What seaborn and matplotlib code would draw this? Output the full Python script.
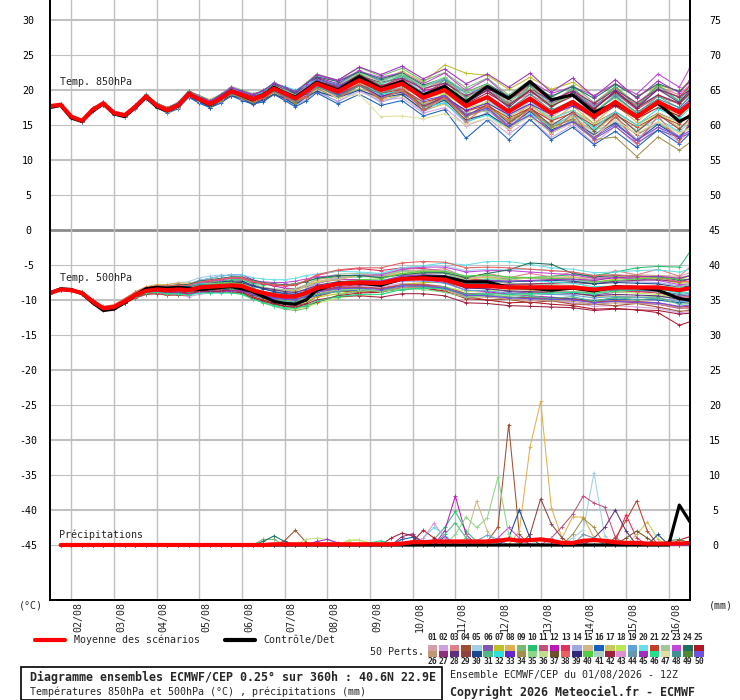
import numpy as np
import pandas as pd
import matplotlib
matplotlib.use("Agg")
import matplotlib.pyplot as plt
from matplotlib.patches import Rectangle
from matplotlib.lines import Line2D
import seaborn as sns


# ---- time steps (hours after 01/08 12Z) ------------------------------------
# temperatures: 6h up to 144h, then 12h (06Z / 18Z), last value at 360h
hours = list(range(0, 145, 6)) + list(range(150, 355, 12)) + [360]
# precipitation: 6h totals
hours_rr = list(range(6, 361, 6))

days = ["02/08", "03/08", "04/08", "05/08", "06/08", "07/08", "08/08", "09/08",
        "10/08", "11/08", "12/08", "13/08", "14/08", "15/08", "16/08"]

# member colours 01..50 (legend swatches)
member_colors = [
    "#d4a0a8", "#d0a0e0", "#e08088", "#a05030", "#a0d0e8", "#8058b0", "#c0c020",
    "#e0b050", "#78b870", "#28c070", "#c05080", "#c018b8", "#e03060", "#a0a8e0",
    "#d0b888", "#1860c0", "#c8c860", "#b8e858", "#60a0d8", "#68e0e8", "#c04028",
    "#a0c898", "#c048d8", "#207060", "#b01828",
    "#c09878", "#903078", "#603080", "#904040", "#184890", "#50b888", "#30e0e0",
    "#6028d0", "#a09048", "#88d888", "#c0e088", "#705028", "#e86060", "#302878",
    "#50d040", "#a8d0c0", "#a02040", "#e090d0", "#6898b0", "#a030c0", "#20e090",
    "#e0e0a0", "#409098", "#508838", "#7050e0",
]

# ---- 850 hPa temperature (°C) ---------------------------------------------
mean850 = [17.7, 17.9, 16.2, 15.6, 17.2, 18.1, 16.7, 16.4, 17.6, 19.1, 17.8, 17.1,
           17.8, 19.4, 18.7, 18.0, 18.8, 19.8, 19.3, 18.7, 19.2, 20.2, 19.5, 18.8,
           19.8, 20.9, 19.8, 21.4, 20.0, 20.9, 18.9, 20.0, 17.7, 19.0, 16.9, 18.8,
           16.7, 18.3, 16.2, 18.3, 16.2, 18.3, 16.8, 18.0]
ctrl850 = [17.5, 17.8, 16.0, 15.5, 17.0, 18.0, 16.6, 16.2, 17.5, 19.0, 17.6, 17.0,
           17.7, 19.5, 18.6, 17.9, 18.8, 19.9, 19.2, 18.6, 19.3, 20.4, 19.6, 19.0,
           20.0, 21.1, 20.0, 21.9, 20.2, 21.2, 19.3, 20.5, 18.3, 20.5, 18.8, 21.2,
           18.6, 19.3, 16.8, 18.1, 16.3, 18.1, 15.5, 16.3]
members850 = [1, 2, 3, 4, 5, 23, 6, 8, 9, 16, 11, 12, 13, 14, 15, 24, 17, 18, 19, 20,
              21, 7, 34, 25, 28, 30, 31, 33, 45, 47,
              10, 22, 27, 29, 32, 35, 38, 42, 48, 50]
# deviation of each perturbation from the mean, tenths of °C
dev850 = [
    [0,1,1,0,1,2,1,0,2,3, 2,1,3,4,3,2,4,5,4,3, 5,6,5,4,6,8,7,10,8,12, 10,14,12,16,13,18,15,20,17,22, 18,24,20,22],
    [0,-1,0,-1,-1,0,-2,-1,-2,-3, -2,-4,-3,-5,-4,-6,-5,-7,-6,-8, -7,-9,-8,-10,-9,-12,-14,-16,-15,-20, -22,-25,-28,-30,-32,-30,-35,-33,-38,-35, -40,-36,-42,-38],
    [1,0,1,1,0,1,0,1,1,2, 0,1,-1,0,1,2,1,3,2,4, 3,5,2,4,1,3,6,8,5,10, 12,15,10,8,12,6,10,14,18,20, 16,22,25,28],
    [-1,0,-1,0,0,-1,1,0,-1,0, 1,-1,0,-2,-1,-3,-2,-4,-1,-3, 0,-2,1,-1,2,0,-4,-6,-3,-8, -10,-6,-12,-15,-18,-14,-20,-24,-28,-22, -26,-30,-34,-30],
    [0,1,0,1,2,1,2,1,3,2, 4,3,5,4,3,2,1,2,0,1, -1,0,-2,-1,-3,-5,-2,-6,-8,-4, -10,-14,-16,-12,-18,-20,-15,-22,-25,-28, -24,-30,-26,-20],
    [0,0,1,0,-1,0,0,-1,0,1, 2,1,2,3,4,3,5,6,5,7, 6,8,9,7,10,12,15,13,18,16, 20,24,22,26,20,25,28,22,30,26, 32,40,36,52],
    [1,1,0,0,1,0,-1,0,-1,-2, -1,-3,-2,-4,-3,-2,-3,-1,-2,0, -1,1,0,2,1,3,5,2,-2,-6, -10,-8,-14,-18,-22,-25,-28,-30,-32,-35, -38,-40,-36,-42],
    [0,-1,-1,0,0,1,1,2,1,2, 1,0,1,0,-1,0,-2,-1,-3,-2, -4,-3,-5,-4,-6,-5,-8,-4,-10,-7, -12,-9,-15,-10,-14,-8,-12,-6,-10,-4, -8,-2,-6,-3],
    [0,0,0,1,1,1,2,2,2,3, 3,4,4,5,5,6,6,7,7,8, 6,9,8,10,12,14,16,18,20,22, 24,25,26,27,24,26,22,24,20,22, 18,20,16,18],
    [-1,-1,-2,-1,-2,-2,-3,-2,-3,-4, -3,-4,-5,-4,-6,-5,-7,-6,-8,-7, -9,-8,-10,-12,-14,-13,-18,-20,-22,-24, -26,-28,-46,-33,-40,-30,-38,-36,-40,-42, -44,-40,-45,-42],
    [0,1,1,2,1,2,1,0,1,0, -1,0,-1,1,0,2,1,3,2,4, 3,2,1,0,-1,-2,-4,-2,0,3, 6,4,8,10,12,9,14,11,16,12, 10,8,12,14],
    [0,0,-1,0,1,0,1,0,0,-1, 0,-1,1,0,2,1,3,2,4,3, 5,4,6,5,7,9,11,14,12,16, 10,6,2,-2,-6,-10,-8,-12,-10,-14, -12,-16,-14,-18],
    [1,0,0,-1,0,-1,-1,-2,-1,-2, -1,0,-1,0,1,0,1,2,1,2, 3,2,3,4,3,5,4,6,5,8, 6,10,14,18,16,20,18,15,12,16, 14,18,22,26],
    [0,0,1,1,0,0,-1,-1,-2,-2, -3,-3,-4,-4,-5,-5,-4,-6,-5,-7, -8,-6,-9,-10,-12,-10,-15,-12,-18,-16, -20,-18,-24,-22,-26,-24,-28,-25,-30,-26, -32,-28,-34,-30],
    [0,1,0,0,0,1,0,1,0,1, 0,1,2,1,2,3,2,3,4,3, 2,4,3,5,4,6,2,0,-3,-5, -8,-12,-10,-6,-8,-4,-6,-2,-5,0, -3,2,-2,4],
    [-1,0,0,1,0,0,1,1,2,1, 2,2,3,2,4,3,5,4,6,5, 8,7,9,8,11,10,14,12,16,15, 18,17,20,19,22,20,24,22,26,25, 28,26,30,32],
    [0,-1,0,0,-1,-1,0,0,1,0, -1,-2,-1,-3,-2,-4,-3,-5,-4,-6, -5,-7,-6,-8,-7,-10,-8,-12,-14,-16, -18,-20,-19,-24,-22,-26,-24,-20,-22,-18, -20,-16,-22,-24],
    [0,0,0,0,1,1,1,1,0,0, 0,1,0,1,1,2,1,2,2,1, 3,1,2,0,1,-1,0,-2,1,-3, -1,-5,-3,-8,-6,-10,-8,-12,-10,-15, -12,-17,-14,-16],
    [1,1,1,0,0,0,-1,-1,-1,0, 0,1,1,2,2,3,3,4,4,5, 6,5,7,6,8,7,10,12,14,13, 16,15,18,14,17,13,16,12,15,11, 14,10,13,16],
    [0,0,-1,-1,0,0,-1,0,-1,-1, -2,-1,-2,-3,-2,-3,-4,-2,-3,-1, -2,0,-1,1,0,2,4,6,8,10, 7,4,0,-3,-7,-4,-9,-12,-15,-18, -20,-24,-28,-26],
    [0,1,1,1,2,2,3,2,3,2, 3,4,3,4,5,4,5,3,4,2, 3,1,2,0,1,-2,-4,-6,-5,-8, -6,-10,-7,-12,-9,-14,-11,-16,-13,-18, -15,-20,-17,-14],
    [-1,-1,0,0,0,-1,-1,0,0,1, 1,2,1,3,2,4,3,5,4,6, 4,7,5,8,6,10,9,12,14,18, 22,36,47,31,32,30,34,28,30,26, 28,24,30,34],
    [0,0,1,0,0,1,0,0,1,0, -1,0,-2,-1,-3,-2,-4,-3,-5,-4, -3,-5,-4,-6,-8,-6,-10,-8,-12,-10, -14,-12,-16,-14,-12,-16,-20,-25,-33,-50, -57,-50,-54,-55],
    [0,-1,-1,-1,0,0,0,1,1,1, 2,1,0,-1,0,-2,-1,-3,-2,-1, 0,2,1,3,2,4,6,3,5,2, 4,0,2,-2,1,-3,0,-4,-2,-6, -3,-8,-5,-2],
    [1,0,0,0,-1,0,-1,0,-1,0, -1,1,0,2,1,3,2,4,3,5, 4,6,5,7,6,8,7,5,3,6, 2,8,4,10,6,12,8,14,10,16, 12,18,14,20],
    [0,0,0,-1,-1,-2,-1,-2,-1,-3, -2,-3,-2,-4,-3,-5,-4,-6,-5,-7, -6,-8,-7,-9,-8,-11,-9,-14,-11,-15, -18,-14,-20,-24,-22,-18,-24,-28,-26,-30, -34,-32,-36,-30],
    [0,1,0,1,0,1,1,2,2,3, 2,1,2,1,0,1,-1,0,-2,-1, -3,-2,-1,0,1,2,4,6,9,12, 15,18,12,16,10,14,8,12,6,10, 4,8,6,12],
    [-1,0,-1,0,-1,0,0,0,-1,-1, 0,0,1,1,2,2,1,1,0,0, -1,-1,-2,-3,-4,-6,-5,-8,-9,-12, -14,-10,-6,-9,-4,-8,-2,-6,0,-4, 2,-2,4,6],
    [0,0,0,0,0,0,1,1,1,2, 2,2,3,3,3,4,4,5,5,6, 7,8,9,10,11,13,16,19,22,25, 27,30,32,33,35,36,30,34,28,32, 26,30,28,34],
    [0,0,1,1,1,0,0,-1,-1,-2, -2,-3,-3,-2,-2,-1,-1,0,0,1, 1,2,2,1,0,-4,-10,-20,-38,-46, -30,-34,-26,-30,-24,-26,-28,-30,-28,-26, -24,-28,-30,-34],
    [0,1,0,1,0,1,0,1,1,2, 1,2,1,3,2,4,2,5,3,6, 4,7,3,8,4,9,3,10,2,12, 4,14,6,16,8,18,10,20,12,22, 14,24,16,26],
    [0,-1,0,-1,0,-1,-1,-2,-1,-2, -1,-3,-2,-4,-2,-5,-3,-6,-4,-7, -5,-8,-6,-9,-7,-10,-8,-12,-6,-14, -8,-16,-10,-20,-12,-24,-16,-26,-20,-30, -24,-32,-28,-36],
    [1,0,1,0,1,0,1,0,2,1, 2,1,3,2,3,2,4,3,4,3, 5,4,6,5,7,4,9,6,11,8, 13,10,15,12,17,14,18,16,19,17, 20,18,22,20],
    [0,0,-1,0,-1,0,-1,-1,-2,-1, -2,-2,-3,-2,-3,-3,-4,-3,-4,-4, -5,-4,-6,-5,-7,-6,-9,-7,-10,-8, -12,-10,-14,-11,-16,-13,-18,-14,-20,-16, -22,-18,-24,-20],
    [0,1,1,0,0,1,2,1,1,2, 3,2,2,3,4,3,3,4,5,4, 6,8,10,12,9,6,2,-2,-6,-10, -14,-18,-22,-26,-24,-22,-20,-18,-16,-14, -12,-10,-8,-6],
    [0,0,0,-1,-1,-1,-1,-2,-2,-2, -1,-1,0,0,1,1,2,2,3,3, 4,4,5,5,6,6,8,10,12,14, 16,18,20,18,16,14,12,10,8,6, 4,2,0,-2],
    [1,1,0,0,0,0,1,1,2,2, 1,1,0,0,-1,-1,-2,-2,-3,-3, -4,-2,-6,-3,-8,-4,-10,-6,-14,-8, -18,-10,-22,-12,-26,-14,-30,-16,-34,-18, -38,-20,-42,-24],
    [0,0,1,1,2,1,0,0,-1,0, 1,2,3,2,1,0,1,2,3,4, 3,2,1,0,2,4,6,8,6,4, 2,0,3,6,9,12,10,8,11,14, 12,10,13,16],
    [0,-1,-1,0,1,0,-1,-1,0,1, 0,-1,-2,-1,0,-1,-2,-3,-2,-1, -2,-3,-4,-3,-2,-4,-6,-8,-5,-2, 1,4,2,0,3,6,4,2,5,8, 6,4,7,10],
    [0,0,0,0,1,1,1,0,0,0, -1,-1,-1,0,0,0,1,1,1,2, 2,3,3,4,5,6,8,5,3,0, -4,-8,-12,-16,-20,-24,-26,-28,-30,-32, -34,-36,-35,-38],
]

# ---- 500 hPa temperature (°C) ---------------------------------------------
mean500 = [-9.0, -8.5, -8.6, -9.0, -10.2, -11.2, -11.0, -10.2, -9.3, -8.7, -8.5, -8.6,
           -8.5, -8.6, -8.2, -8.1, -8.0, -7.9, -8.0, -8.6, -9.0, -9.3, -9.5, -9.5,
           -9.0, -8.3, -7.7, -7.5, -7.6, -7.0, -6.9, -7.1, -8.0, -8.0, -8.2, -8.2,
           -8.2, -8.2, -8.5, -8.2, -8.2, -8.2, -8.6, -8.3]
ctrl500 = [-9.0, -8.4, -8.5, -9.1, -10.4, -11.5, -11.3, -10.4, -9.3, -8.4, -8.2, -8.3,
           -8.2, -8.3, -8.5, -8.4, -8.2, -8.1, -8.4, -8.8, -9.5, -10.2, -10.5, -10.6,
           -10.0, -8.6, -7.6, -7.6, -7.9, -7.0, -6.7, -6.7, -7.4, -7.4, -8.2, -8.3,
           -8.6, -8.3, -8.7, -8.1, -8.2, -8.6, -9.8, -10.0]
members500 = [1, 2, 10, 25, 5, 6, 7, 8, 9, 20, 11, 12, 13, 14, 15, 16, 24, 18, 19, 40,
              21, 22, 23, 45, 26, 27, 28, 46, 30, 50,
              3, 4, 17, 31, 32, 35, 38, 42, 44, 48]
dev500 = [
    [0,0,1,0,1,1,2,2,3,3, 4,5,6,7,8,9,10,11,10,9, 8,7,6,5,4,3,2,1,3,5, 7,9,11,13,12,14,13,15,14,16, 18,17,20,22],
    [0,-1,0,-1,-1,-2,-2,-3,-4,-5, -6,-7,-8,-9,-10,-9,-8,-10,-11,-12, -13,-14,-15,-16,-14,-10,-6,-4,-5,-6, -8,-10,-12,-14,-16,-18,-20,-22,-24,-26, -28,-30,-32,-34],
    [0,0,0,1,1,0,1,1,2,2, 1,2,3,4,5,6,7,8,9,10, 12,14,16,18,17,14,10,8,10,12, 11,9,8,10,12,14,16,18,20,22, 28,30,33,52],
    [0,1,0,0,-1,-1,0,-1,-2,-1, -2,-3,-4,-3,-5,-6,-7,-6,-8,-9, -10,-12,-14,-16,-18,-20,-17,-15,-13,-12, -14,-16,-18,-20,-22,-21,-24,-26,-28,-30, -32,-36,-50,-48],
    [0,0,-1,0,0,1,1,2,3,4, 6,8,10,12,14,15,16,14,12,10, 8,6,5,4,6,8,10,12,14,16, 18,20,22,24,25,26,24,22,20,18, 16,14,12,10],
    [1,0,0,0,1,0,-1,-2,-3,-4, -3,-2,-1,0,1,0,-1,-2,-3,-4, -5,-6,-5,-4,-2,0,2,4,3,2, 1,0,-2,-4,-6,-8,-10,-9,-8,-7, -6,-5,-8,-10],
    [0,0,0,-1,0,1,2,3,4,3, 2,1,0,-1,-2,-3,-4,-5,-6,-7, -8,-9,-10,-11,-12,-13,-14,-12,-10,-8, -6,-4,-2,0,2,4,6,8,10,12, 14,12,10,8],
    [0,1,1,1,2,2,3,4,5,6, 7,8,9,10,9,8,7,6,5,6, 7,8,9,10,11,12,11,10,9,8, 6,4,2,0,-2,-4,-6,-8,-10,-12, -14,-16,-18,-20],
    [0,-1,-1,0,0,0,-1,-1,-1,-2, -3,-4,-5,-6,-7,-8,-9,-10,-11,-12, -14,-16,-18,-20,-22,-20,-16,-12,-10,-8, -9,-10,-11,-12,-14,-16,-18,-17,-16,-15, -14,-13,-12,-16],
    [0,0,1,1,1,2,2,2,1,1, 2,4,6,8,10,12,14,15,16,18, 20,22,24,26,25,20,18,15,14,16, 18,24,30,35,37,33,28,26,24,22, 24,25,26,27],
    [0,0,0,0,-1,-2,-3,-2,-1,0, 1,2,3,4,5,6,5,4,3,2, 1,0,-1,-2,-3,-4,-5,-6,-7,-8, -9,-10,-11,-10,-9,-8,-7,-6,-5,-4, -3,-2,-1,0],
    [0,1,0,1,0,1,0,1,2,3, 4,5,6,8,10,12,14,15,16,15, 14,13,12,11,10,8,6,4,2,0, -2,-4,-6,-8,-10,-12,-14,-16,-18,-20, -22,-24,-26,-28],
    [-1,0,0,-1,-1,0,0,0,1,2, 3,4,5,6,7,8,9,10,11,12, 13,14,15,16,17,18,19,20,18,16, 14,12,10,8,6,4,2,0,-2,-4, -6,-8,-10,-12],
    [0,0,-1,-1,-2,-2,-3,-3,-4,-5, -6,-7,-6,-5,-4,-3,-2,-1,0,1, 2,3,4,5,6,7,8,9,10,11, 12,13,14,15,14,13,12,11,10,9, 8,7,6,5],
    [0,0,0,0,0,0,0,1,1,1, 2,2,3,3,4,4,5,5,6,6, 7,7,8,8,9,9,10,10,11,11, 12,12,13,13,14,14,15,15,16,16, 17,17,18,18],
    [0,0,0,0,0,-1,-1,-1,-1,-2, -2,-3,-3,-4,-4,-5,-5,-6,-6,-7, -7,-8,-8,-9,-9,-10,-10,-11,-11,-12, -12,-13,-13,-14,-14,-15,-15,-16,-16,-17, -17,-18,-18,-19],
    [1,1,0,0,1,1,2,2,3,4, 5,6,7,8,9,10,11,12,13,14, 15,16,17,18,16,14,12,10,8,6, 8,10,12,18,25,35,33,20,18,17, 16,15,14,13],
    [0,-1,-1,-1,-2,-1,-1,0,0,-1, -2,-3,-4,-5,-6,-7,-8,-9,-10,-11, -12,-14,-16,-18,-20,-22,-20,-18,-16,-14, -12,-10,-8,-6,-4,-2,0,-2,-4,-6, -8,-10,-12,-14],
    [0,0,1,0,0,-1,0,1,2,1, 0,-1,-2,-1,0,1,2,3,4,5, 6,5,4,3,2,1,0,-1,-2,-3, -4,-5,-6,-7,-8,-9,-10,-11,-12,-13, -14,-15,-16,-18],
    [0,1,1,0,0,1,1,1,0,0, 1,1,2,2,3,3,4,4,3,3, 2,2,1,1,0,0,2,4,6,8, 10,12,14,16,15,14,13,12,11,10, 12,14,16,18],
    [-1,-1,0,0,0,-1,-2,-3,-4,-5, -6,-7,-8,-7,-6,-5,-4,-3,-2,-1, 0,-1,-2,-3,-4,-5,-6,-7,-8,-9, -10,-11,-12,-13,-14,-15,-16,-17,-18,-19, -20,-22,-24,-26],
    [0,0,0,1,1,1,1,0,0,0, 0,1,1,2,2,3,4,5,6,7, 8,9,10,11,12,13,14,13,12,11, 10,9,8,7,6,5,4,3,2,1, 0,-1,-2,-3],
    [0,0,0,0,0,1,1,2,2,3, 3,4,5,6,7,8,9,10,12,14, 16,18,20,22,20,16,12,10,12,14, 16,18,20,22,24,22,20,18,16,14, 12,10,8,6],
    [0,0,-1,0,-1,0,-1,0,-1,-2, -3,-4,-5,-6,-7,-8,-9,-8,-7,-6, -5,-4,-3,-2,-1,0,1,2,3,4, 5,6,7,8,9,10,11,12,13,14, 15,16,17,18],
    [0,1,0,0,0,0,1,2,3,4, 5,6,5,4,3,2,1,0,-1,-2, -3,-4,-5,-6,-7,-8,-9,-10,-11,-12, -13,-14,-15,-16,-17,-18,-19,-20,-21,-22, -23,-24,-25,-30],
    [0,0,0,-1,-1,-1,0,0,1,1, 2,2,1,1,0,0,-1,-1,-2,-2, -3,-3,-4,-4,-5,-5,-4,-3,-2,-1, 0,1,2,3,4,5,6,7,8,9, 10,11,12,13],
    [0,0,1,1,2,2,1,0,-1,-2, -3,-2,-1,0,1,2,3,4,5,6, 7,8,7,6,5,4,3,2,1,0, -1,-2,-3,-4,-5,-6,-7,-8,-9,-10, -11,-12,-13,-14],
    [0,-1,0,0,0,0,0,-1,-2,-3, -4,-5,-6,-7,-8,-9,-10,-11,-12,-13, -14,-15,-16,-17,-18,-19,-18,-17,-16,-15, -14,-13,-12,-11,-10,-9,-8,-7,-6,-5, -4,-3,-2,-1],
    [0,0,0,0,1,1,1,1,2,2, 3,3,4,4,5,5,6,6,7,7, 6,5,4,3,2,1,0,1,2,3, 4,5,6,7,8,9,10,9,8,7, 6,5,4,3],
    [0,0,0,0,-1,0,0,1,1,2, 2,1,1,0,0,-1,-1,-2,-2,-3, -3,-4,-4,-5,-5,-6,-7,-8,-9,-10, -11,-12,-13,-14,-15,-16,-17,-18,-19,-20, -21,-22,-23,-24],
    [0,1,0,1,2,1,2,3,2,4, 3,5,4,6,5,7,6,5,7,6, 8,7,9,8,10,6,8,12,9,14, 10,16,12,18,14,20,15,22,16,24, 18,26,20,30],
    [0,-1,0,-1,-2,-1,-3,-2,-4,-3, -5,-4,-6,-5,-4,-6,-8,-7,-9,-11, -10,-12,-14,-13,-15,-12,-10,-14,-11,-16, -13,-18,-15,-20,-17,-22,-19,-24,-21,-26, -23,-28,-30,-32],
    [0,0,1,1,0,0,1,2,1,3, 2,4,3,5,6,4,7,5,8,6, 9,7,10,8,11,9,6,10,7,11, 8,12,9,13,10,14,11,15,12,16, 13,17,14,18],
    [0,0,-1,0,0,-1,-1,0,1,0, -1,-2,-1,-3,-2,-4,-3,-5,-4,-6, -5,-7,-6,-8,-7,-9,-11,-8,-12,-9, -13,-10,-14,-11,-15,-12,-16,-13,-17,-14, -18,-15,-20,-22],
    [1,0,0,1,1,2,1,3,2,4, 3,5,4,6,5,4,3,2,1,0, -1,-2,-3,-2,-1,0,1,2,3,4, 5,6,7,8,9,10,8,6,4,2, 0,-2,-4,-6],
    [0,0,0,-1,-1,0,0,-1,-2,-1, 0,1,2,3,4,5,4,3,2,1, 0,-1,-2,-3,-4,-6,-8,-10,-12,-14, -16,-18,-16,-14,-12,-10,-8,-6,-4,-2, 0,2,4,6],
    [0,1,1,2,2,3,3,4,4,5, 5,6,6,7,8,9,10,11,12,13, 14,15,16,17,18,19,20,21,22,23, 24,25,26,27,28,26,24,22,20,18, 16,14,12,10],
    [0,0,0,0,-1,-1,-2,-2,-3,-3, -4,-4,-5,-5,-6,-7,-8,-9,-10,-11, -12,-13,-14,-15,-16,-17,-18,-19,-20,-21, -22,-23,-24,-25,-26,-27,-28,-29,-30,-31, -32,-33,-34,-36],
    [0,0,1,0,1,0,1,0,1,0, 1,0,1,0,1,0,1,0,1,0, 1,0,1,0,1,0,1,0,1,0, 1,0,1,0,1,0,1,0,1,0, 1,0,1,0],
    [0,-1,0,0,-1,0,0,1,0,1, 2,3,4,5,4,3,2,1,0,-1, -2,-3,-4,-5,-4,-3,-2,-1,0,1, 2,3,4,3,2,1,0,-1,-2,-3, -4,-5,-6,-8],
]

# ---- precipitation (mm / 6h) ----------------------------------------------
mean_rr = [0.0, 0.0, 0.0, 0.0, 0.0, 0.0, 0.0, 0.0, 0.0, 0.0, 0.0, 0.0, 0.0, 0.0, 0.0,
           0.0, 0.0, 0.0, 0.0, 0.0, 0.1, 0.1, 0.1, 0.1, 0.1, 0.1, 0.1, 0.1, 0.1, 0.1,
           0.1, 0.1, 0.2, 0.4, 0.4, 0.5, 0.5, 0.5, 0.5, 0.5, 0.5, 0.6, 0.8, 0.6, 0.7,
           0.8, 0.6, 0.3, 0.3, 0.6, 0.7, 0.6, 0.4, 0.3, 0.3, 0.2, 0.2, 0.2, 0.2, 0.3]
ctrl_rr = [0.0, 0.0, 0.0, 0.0, 0.0, 0.0, 0.0, 0.0, 0.0, 0.0, 0.0, 0.0, 0.0, 0.0, 0.0,
           0.0, 0.0, 0.0, 0.0, 0.0, 0.0, 0.0, 0.0, 0.0, 0.0, 0.0, 0.0, 0.0, 0.0, 0.0,
           0.0, 0.0, 0.0, 0.0, 0.0, 0.0, 0.0, 0.0, 0.0, 0.0, 0.0, 0.0, 0.0, 0.0, 0.0,
           0.0, 0.0, 0.0, 0.0, 0.0, 0.0, 0.0, 0.0, 0.0, 0.0, 0.0, 0.0, 0.0, 5.7, 3.3]
# rain events per perturbation: member -> {hour: mm}
rr_events = {
    4: {132: 0.6, 138: 2.1, 144: 0.4, 246: 0.5, 252: 2.6, 258: 17.2, 264: 1.5},
    5: {294: 1.0, 300: 2.2, 306: 10.3, 312: 1.3},
    8: {264: 2.0, 270: 14.0, 276: 20.5, 282: 5.3, 288: 1.0, 294: 4.0, 300: 4.0, 306: 1.0},
    9: {120: 0.8, 126: 0.8},
    10: {216: 0.8, 222: 2.5, 228: 4.8, 234: 2.0, 240: 0.5},
    11: {282: 1.0, 288: 2.6, 294: 4.4, 300: 7.0, 306: 6.0, 312: 5.4, 318: 1.1},
    12: {222: 2.0, 228: 7.0, 234: 1.5},
    13: {318: 0.5, 324: 4.3, 330: 1.0},
    15: {234: 1.0, 240: 6.3, 246: 2.0},
    16: {198: 0.8, 204: 1.1},
    17: {330: 1.5, 336: 3.3, 342: 0.8},
    18: {168: 0.7, 174: 0.7, 180: 0.3},
    19: {240: 0.6, 246: 1.4, 252: 0.8},
    20: {210: 1.0, 216: 2.5, 222: 1.5},
    21: {318: 1.0, 324: 3.5, 330: 6.3, 336: 2.0},
    23: {252: 1.0, 258: 2.5, 264: 1.0},
    24: {120: 0.5, 126: 1.3, 132: 0.5},
    25: {204: 0.5, 210: 2.1, 216: 1.0, 354: 0.7, 360: 1.2},
    27: {198: 1.2, 204: 1.6},
    28: {306: 1.0, 312: 2.5, 318: 5.0, 324: 2.0},
    29: {270: 1.5, 276: 6.6, 282: 3.0, 288: 1.0},
    30: {258: 1.0, 264: 5.0, 270: 1.0, 342: 1.5},
    31: {222: 1.5, 228: 3.2, 234: 1.0},
    33: {222: 1.2},
    34: {294: 1.5, 300: 3.8, 306: 2.5},
    35: {228: 1.5, 234: 4.0, 240: 2.5, 246: 3.9, 252: 9.7, 258: 1.5},
    36: {144: 0.8, 150: 1.0, 156: 0.8, 168: 0.6, 174: 0.7},
    37: {324: 1.0, 330: 2.0, 336: 1.0},
    41: {276: 1.0, 282: 0.8},
    42: {192: 1.0, 198: 1.7, 204: 1.3, 210: 0.5},
    43: {210: 1.0, 216: 3.1, 222: 1.0},
    44: {300: 1.5, 306: 1.0},
    45: {150: 0.5, 156: 0.8, 162: 0.3},
    46: {180: 0.3, 186: 0.6, 192: 0.2},
    49: {348: 0.6, 354: 0.8, 360: 0.3},
}

RR_ZERO = -45  # precipitation is drawn with 0 mm on the -45 line


def members_frame(member_ids, base, devs):
    rows = []
    for k, dev in zip(member_ids, devs):
        assert len(dev) == len(hours), (k, len(dev))
        for h, b, d in zip(hours, base, dev):
            rows.append({"member": k, "hour": h, "value": b + d / 10})
    return pd.DataFrame(rows)


df850 = members_frame(members850, mean850, dev850)
df500 = members_frame(members500, mean500, dev500)

rows = []
for k in range(1, 51):
    ev = rr_events.get(k, {})
    for h in hours_rr:
        rows.append({"member": k, "hour": h, "value": RR_ZERO + ev.get(h, 0.0)})
df_rr = pd.DataFrame(rows)

palette = {k: member_colors[k - 1] for k in range(1, 51)}

# ---- figure ----------------------------------------------------------------
sns.set_theme(style="white")
plt.rcParams["font.family"] = ["DejaVu Sans Mono"]
plt.rcParams["font.size"] = 7.2

W, H = 740, 700
fig = plt.figure(figsize=(W / 100, H / 100), dpi=100)
fig.patch.set_facecolor("white")
ax = fig.add_axes([50 / W, 100 / H, 640 / W, 600 / H])

# grid
for v in range(-45, 31, 5):
    if v == 0:
        ax.axhline(v, color="#8c8c8c", lw=2.0, zorder=0)
    else:
        ax.axhline(v, color="#c0c0c0", lw=1.5 if v % 10 == 0 else 0.8, zorder=0)
for i in range(len(days)):
    ax.axvline(12 + 24 * i, color="#c0c0c0", lw=1.0, zorder=0)

line_kw = dict(x="hour", y="value", hue="member", palette=palette, estimator=None,
               legend=False, lw=0.75, marker="+", markersize=2.5, ax=ax, zorder=2)
sns.lineplot(data=df850, **line_kw)
sns.lineplot(data=df500, **line_kw)
sns.lineplot(data=df_rr, **line_kw)
for line in ax.get_lines():
    if line.get_marker() == "+":
        line.set_markeredgecolor(line.get_color())
        line.set_markeredgewidth(0.6)

sns.lineplot(x=hours, y=ctrl850, color="black", lw=2.3, ax=ax, zorder=3)
sns.lineplot(x=hours, y=ctrl500, color="black", lw=2.3, ax=ax, zorder=3)
sns.lineplot(x=hours_rr, y=[RR_ZERO + v for v in ctrl_rr], color="black", lw=2.3,
             ax=ax, zorder=3)
sns.lineplot(x=hours, y=mean850, color="red", lw=3.0, ax=ax, zorder=4)
sns.lineplot(x=hours, y=mean500, color="red", lw=3.0, ax=ax, zorder=4)
sns.lineplot(x=hours_rr, y=[RR_ZERO + v for v in mean_rr], color="red", lw=3.0,
             ax=ax, zorder=4)

ax.text(5.6, 21.1, "Temp. 850hPa", va="center", ha="left")
ax.text(5.6, -6.9, "Temp. 500hPa", va="center", ha="left")
ax.text(5.1, -43.6, "Précipitations", va="center", ha="left")

# axes
ax.set_xlim(0, 360)
ax.set_ylim(-52.86, 32.86)
ax.set_xticks([])
ax.set_xlabel("")
ax.set_ylabel("")
yt = list(range(-45, 31, 5))
ax.set_yticks(yt)
ax.set_yticklabels([str(v) for v in yt])
ax.tick_params(axis="y", length=0, pad=15.8, labelsize=7.2, colors="black")
for lab in ax.get_yticklabels():
    lab.set_horizontalalignment("center")

ax2 = ax.twinx()
ax2.set_ylim(ax.get_ylim())
ax2.set_yticks(yt)
ax2.set_yticklabels([str(v + 45) for v in yt])
ax2.tick_params(axis="y", length=0, pad=18, labelsize=7.2, colors="black")
for lab in ax2.get_yticklabels():
    lab.set_horizontalalignment("center")

for a in (ax, ax2):
    a.spines["top"].set_visible(False)
    for s in ("left", "right", "bottom"):
        a.spines[s].set_color("black")
        a.spines[s].set_linewidth(1.3)

for i, d in enumerate(days):
    ax.text(12 + 24 * i + 3.9, -0.004, d, rotation=90, ha="center", va="top",
            transform=ax.get_xaxis_transform(), fontsize=7.2)


def fx(x):
    return x / W


def fy(y):
    return 1 - y / H


fig.text(fx(31), fy(606), "(°C)", ha="center", va="center")
fig.text(fx(721), fy(606), "(mm)", ha="center", va="center")

# legend
fig.add_artist(Line2D([fx(35), fx(65)], [fy(639.5)] * 2, color="red", lw=3.0))
fig.text(fx(74), fy(639.5), "Moyenne des scénarios", ha="left", va="center")
fig.add_artist(Line2D([fx(225), fx(255)], [fy(639.5)] * 2, color="black", lw=3.0))
fig.text(fx(263), fy(639.5), "Contrôle/Det", ha="left", va="center")
fig.text(fx(370), fy(652), "50 Perts.", ha="left", va="center")

for i in range(25):
    x0 = 427.7 + i * 11.1
    fig.add_artist(Rectangle((fx(x0), fy(651)), 9.5 / W, 5.8 / H,
                             color=member_colors[i], lw=0))
    fig.add_artist(Rectangle((fx(x0), fy(657.3)), 9.5 / W, 6.3 / H,
                             color=member_colors[i + 25], lw=0))
    fig.text(fx(x0 + 4.75), fy(638), f"{i + 1:02d}", ha="center", va="center",
             fontsize=5.8, fontweight="bold")
    fig.text(fx(x0 + 4.75), fy(661.5), f"{i + 26:02d}", ha="center", va="center",
             fontsize=5.8, fontweight="bold")

# title box
fig.add_artist(Rectangle((fx(20.7), 0), (441.7 - 20.7) / W, 33 / H, fill=False,
                         ec="black", lw=1.2))
fig.text(fx(30), fy(677.5), "Diagramme ensembles ECMWF/CEP 0.25° sur 360h : 40.6N 22.9E",
         ha="left", va="center", fontsize=8.4, fontweight="bold")
fig.text(fx(30), fy(692), "Températures 850hPa et 500hPa (°C) , précipitations (mm)",
         ha="left", va="center")
fig.text(fx(450), fy(675), "Ensemble ECMWF/CEP du 01/08/2026 - 12Z", ha="left", va="center")
fig.text(fx(450), fy(692), "Copyright 2026 Meteociel.fr - ECMWF", ha="left", va="center",
         fontsize=8.4, fontweight="bold")

fig.savefig("out.png", dpi=100, facecolor="white")
